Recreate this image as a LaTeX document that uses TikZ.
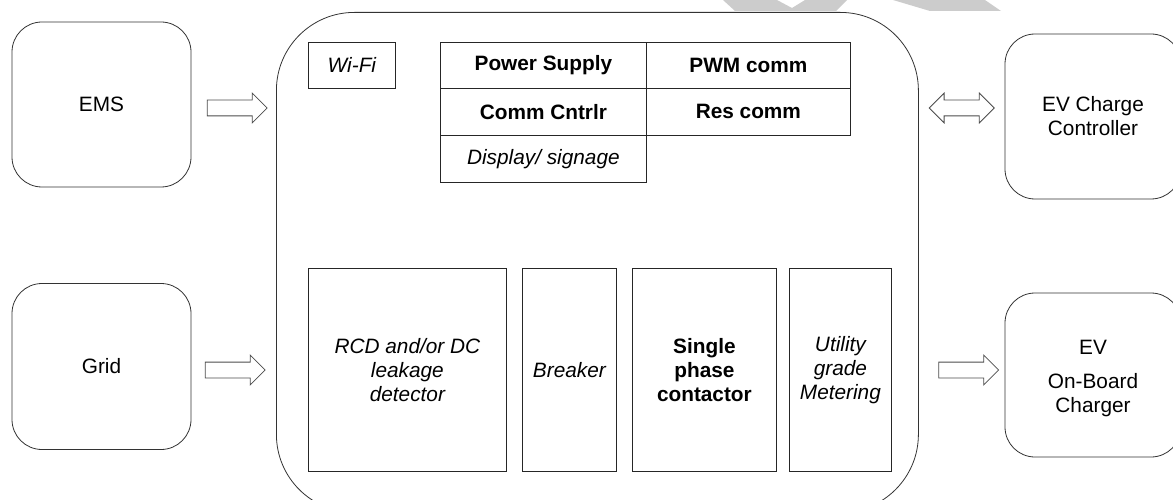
\documentclass[tikz,border=0pt]{standalone}
\usepackage{fontspec}
\setmainfont{Liberation Sans}
\usetikzlibrary{shapes.arrows,calc}
\begin{document}
\begin{tikzpicture}[x=1pt,y=-1pt,
  txt/.style={font=\fontsize{20.8}{24}\selectfont, align=center, text=black},
  outer/.style={draw=black!80, line width=0.8pt, rounded corners=30pt, txt,
    minimum width=179pt, minimum height=165pt},
  cell/.style={draw=black!85, line width=0.8pt, txt, inner sep=0pt, anchor=north west},
  blockarrow/.style={single arrow, draw=black!70, line width=0.8pt, fill=white,
    minimum height=60pt, single arrow head extend=7pt,
    inner xsep=0pt, inner ysep=7.5pt},
  twoway/.style={double arrow, draw=black!70, line width=0.8pt, fill=white,
    minimum height=65pt, double arrow head extend=7pt,
    inner xsep=0pt, inner ysep=7.5pt},
]
\useasboundingbox (0,0) rectangle (1173,500);
\clip (0,0) rectangle (1173,500);

% faint marks along the top edge
\fill[black!20] (723,0) -- (777,0) -- (792,8) -- (805,0) -- (847,0) -- (836,11) -- (735,11) -- cycle;
\fill[black!20] (893,0) -- (985,0) -- (1001,11) -- (930,11) -- cycle;

% external parties
\node[outer] (ems)  at (101.5,104.5) {EMS};
\node[outer, minimum height=166pt] (grid) at (101.5,366.5) {Grid};
\node[outer, minimum width=176pt, minimum height=165pt] (evcc) at (1093,116.5) {EV Charge\\Controller};
\node[outer, minimum width=176pt, minimum height=164pt] (obc) at (1093,375) {};
\node[txt] (obctext) at ($(obc.center)+(0,4)$) {EV\\[10pt]On-Board\\Charger};

% charging station enclosure
\node[draw=black!80, line width=0.8pt, rounded corners=78pt, anchor=north west,
  minimum width=642pt, minimum height=500pt, inner sep=0pt] (hub) at (276,12) {};

% control section
\node[cell, minimum width=87pt, minimum height=46pt] (wifi) at (308,42) {\itshape Wi-Fi};
\node[cell, minimum width=206pt, minimum height=46pt] (ps)   at (440,42)  {\bfseries Power Supply};
\node[cell, minimum width=204pt, minimum height=46pt] (pwm)  at (646,42)  {\bfseries PWM comm};
\node[cell, minimum width=206pt, minimum height=47pt] (cc)   at (440,88)  {\bfseries Comm Cntrlr};
\node[cell, minimum width=204pt, minimum height=47pt] (res)  at (646,88)  {\bfseries Res comm};
\node[cell, minimum width=206pt, minimum height=47pt] (disp) at (440,135) {\itshape Display/ signage};

% power path
\node[cell, minimum width=198pt, minimum height=203pt] (rcd) at (308,268)
  {\itshape RCD and/or DC\\\itshape leakage\\\itshape detector};
\node[cell, minimum width=94pt, minimum height=203pt] (brk) at (522,268) {\itshape Breaker};
\node[cell, minimum width=144pt, minimum height=203pt] (cont) at (632,268)
  {\bfseries Single\\\bfseries phase\\\bfseries contactor};
\node[cell, minimum width=102pt, minimum height=203pt] (meter) at (789,268)
  {\itshape Utility\\\itshape grade\\\itshape Metering};

% flows
\node[blockarrow] (emsflow)  at ($(ems.east)!0.5!(ems.east -| hub.west)+(-0.5,3.5)$) {};
\node[blockarrow] (gridflow) at ($(grid.east)!0.5!(grid.east -| hub.west)+(-2.5,3.5)$) {};
\node[twoway]     (ccflow)   at ($(hub.east |- 0,108)!0.5!(evcc.west |- 0,108)$) {};
\node[blockarrow] (obcflow)  at ($(hub.east |- 0,370)!0.5!(obc.west |- 0,370)+(3,0)$) {};
\end{tikzpicture}
\end{document}
